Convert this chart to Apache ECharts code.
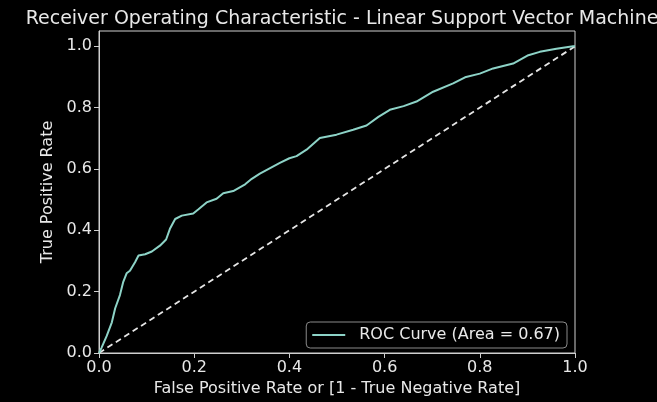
<!DOCTYPE html>
<html>
<head>
<meta charset="utf-8">
<script src="https://cdn.jsdelivr.net/npm/echarts@6/dist/echarts.min.js"></script>
<style>
html,body{margin:0;padding:0;background:#000;}
#chart{width:657px;height:402px;}
</style>
</head>
<body>
<div id="chart"></div>
<script>
const titleText = 'Receiver Operating Characteristic - Linear Support Vector Machine';
const xAxisName = 'False Positive Rate or [1 - True Negative Rate]';
const yAxisName = 'True Positive Rate';
const rocName = 'ROC Curve (Area = 0.67)';
const tickValues = [0, 0.2, 0.4, 0.6, 0.8, 1.0];
const fpr = [0, 0.005, 0.016, 0.027, 0.034, 0.044, 0.051, 0.058, 0.065, 0.076, 0.083, 0.097, 0.111, 0.128, 0.141, 0.149, 0.160, 0.174, 0.198, 0.209, 0.226, 0.247, 0.261, 0.282, 0.307, 0.321, 0.338, 0.380, 0.400, 0.415, 0.436, 0.464, 0.499, 0.534, 0.562, 0.587, 0.611, 0.640, 0.667, 0.702, 0.744, 0.769, 0.800, 0.828, 0.870, 0.902, 0.926, 0.961, 0.996, 1.0];
const tpr = [0, 0.016, 0.055, 0.100, 0.146, 0.189, 0.232, 0.260, 0.268, 0.297, 0.318, 0.322, 0.331, 0.350, 0.370, 0.405, 0.437, 0.448, 0.455, 0.469, 0.491, 0.503, 0.521, 0.528, 0.550, 0.568, 0.585, 0.620, 0.635, 0.642, 0.663, 0.701, 0.712, 0.728, 0.742, 0.770, 0.793, 0.805, 0.820, 0.852, 0.879, 0.899, 0.911, 0.928, 0.944, 0.971, 0.982, 0.992, 1.000, 1.000];
const diagX = [0, 1];
const diagY = [0, 1];

const txt = '#e8e8e8';
const axisCol = '#cfcfcf';
const font = 'DejaVu Sans';

const chart = echarts.init(document.getElementById('chart'), null, {renderer: 'canvas'});
chart.setOption({
  backgroundColor: '#000',
  animation: false,
  title: {
    text: titleText, left: 337, top: 5, textAlign: 'center',
    textStyle: {color: txt, fontFamily: font, fontSize: 19, fontWeight: 'normal'}
  },
  grid: {left: 99, right: 82, top: 31, bottom: 47, show: true, borderColor: axisCol, borderWidth: 1},
  legend: {
    data: [{name: rocName, icon: 'rect'}], right: 90, bottom: 54,
    orient: 'horizontal',
    padding: [5, 7, 5, 6],
    itemWidth: 33, itemHeight: 2,
    backgroundColor: 'rgba(0,0,0,0.8)',
    borderColor: '#8a8a8a', borderWidth: 1, borderRadius: 4,
    textStyle: {color: txt, fontFamily: font, fontSize: 16, padding: [0, 0, 0, 9], lineHeight: 16}
  },
  xAxis: {
    type: 'value', min: 0, max: 1, interval: 0.2,
    name: xAxisName, nameLocation: 'middle', nameGap: 28,
    nameTextStyle: {color: txt, fontFamily: font, fontSize: 16},
    axisLine: {show: true, lineStyle: {color: axisCol, width: 1}},
    axisTick: {show: true, inside: false, length: 5, lineStyle: {color: axisCol}},
    axisLabel: {color: txt, fontFamily: font, fontSize: 16, margin: 7, formatter: v => v.toFixed(1)},
    splitLine: {show: false}
  },
  yAxis: {
    type: 'value', min: 0, max: 1.05,
    name: yAxisName, nameLocation: 'middle', nameGap: 38,
    nameTextStyle: {color: txt, fontFamily: font, fontSize: 16},
    axisLine: {show: true, lineStyle: {color: axisCol, width: 1}},
    axisTick: {show: true, inside: false, length: 5, lineStyle: {color: axisCol}, customValues: tickValues},
    axisLabel: {color: txt, fontFamily: font, fontSize: 16, margin: 7, customValues: tickValues, formatter: v => v.toFixed(1)},
    splitLine: {show: false}
  },
  series: [
    {
      name: rocName, type: 'line', showSymbol: false, symbol: 'none',
      data: fpr.map((x, i) => [x, tpr[i]]),
      lineStyle: {color: '#8dd3c7', width: 2},
      itemStyle: {color: '#8dd3c7'},
      z: 3
    },
    {
      name: 'diag', type: 'line', showSymbol: false, symbol: 'none',
      data: diagX.map((x, i) => [x, diagY[i]]),
      lineStyle: {color: '#e6e6e6', width: 1.8, type: [6, 4]},
      z: 2
    }
  ]
});
</script>
</body>
</html>
